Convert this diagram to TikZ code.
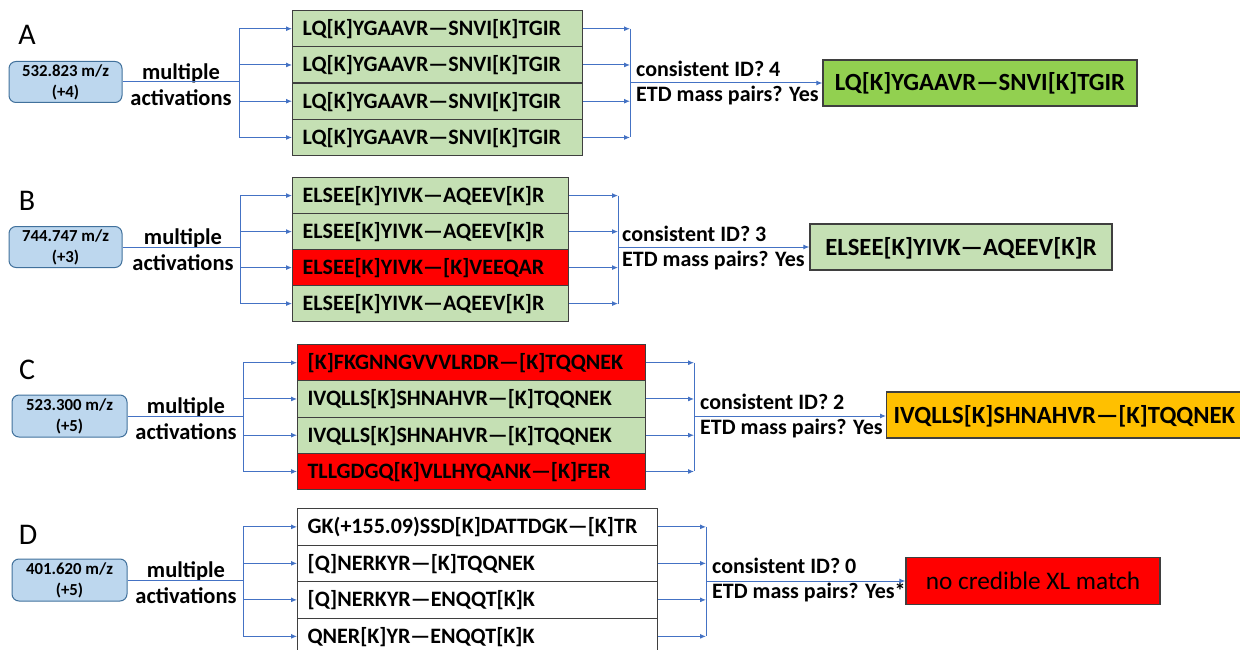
\documentclass[tikz,border=0pt]{standalone}
\usepackage{fontspec}
\setmainfont{Carlito}
\usetikzlibrary{arrows.meta}

\definecolor{linkblue}{HTML}{4472C4}
\definecolor{prefill}{HTML}{BDD7EE}
\definecolor{predraw}{HTML}{41719C}
\definecolor{rowgreen}{HTML}{C5E0B4}
\definecolor{rowred}{HTML}{FF0000}
\definecolor{resgreen}{HTML}{92D050}
\definecolor{resorange}{HTML}{FFC000}
\definecolor{edgegray}{HTML}{3F3F3F}

\tikzset{
  conn/.style={draw=linkblue, line width=1pt},
  arr/.style={conn, -{Latex[length=6pt,width=5pt]}},
  panellabel/.style={font=\fontsize{30}{30}\selectfont, inner sep=0pt},
  precursor/.style={draw=predraw, fill=prefill, rounded corners=7pt, line width=1pt,
    minimum width=113pt, minimum height=41pt, align=center, inner sep=0pt,
    font=\fontsize{16.8}{21}\selectfont\bfseries},
  activ/.style={align=center, inner sep=0pt, font=\fontsize{22.5}{26}\selectfont\bfseries},
  seqrow/.style={draw=edgegray, line width=1.2pt, anchor=north west, inner xsep=10pt,
    inner ysep=0pt, align=left, text height=16pt, text depth=2pt,
    font=\fontsize{22}{25}\selectfont\bfseries},
  verdict/.style={anchor=west, align=left, inner sep=0pt,
    font=\fontsize{22}{25.5}\selectfont\bfseries},
  result/.style={draw=edgegray, line width=1.2pt, inner xsep=8pt, inner ysep=0pt,
    text height=18pt, text depth=2pt, font=\fontsize{24.7}{28}\selectfont\bfseries},
}

\begin{document}
\begin{tikzpicture}[x=1pt,y=-1pt]
\useasboundingbox (0,0) rectangle (1240,650);
\clip (0,0) rectangle (1240,650);

% ---------------- Panel A ----------------
\node[panellabel] (labA) at (27,35) {A};
\node[precursor] (preA) at (65.5,82) {532.823 m/z\\(+4)};
\node[activ] (actA) at (181,85) {multiple\\activations};
\coordinate (forkA) at (239,82);
\node[seqrow, fill=rowgreen, minimum height=36.25pt, text width=270pt] (rA1) at (292,10) {LQ[K]YGAAVR—SNVI[K]TGIR};
\node[seqrow, fill=rowgreen, minimum height=36.25pt, text width=270pt] (rA2) at (292,46.25) {LQ[K]YGAAVR—SNVI[K]TGIR};
\node[seqrow, fill=rowgreen, minimum height=36.25pt, text width=270pt] (rA3) at (292,82.5) {LQ[K]YGAAVR—SNVI[K]TGIR};
\node[seqrow, fill=rowgreen, minimum height=36.25pt, text width=270pt] (rA4) at (292,118.75) {LQ[K]YGAAVR—SNVI[K]TGIR};
\coordinate (joinA) at (630,83);
\node[result, fill=resgreen, minimum width=314pt, minimum height=46pt] (resA) at (980,83) {LQ[K]YGAAVR—SNVI[K]TGIR};
\node[verdict] (vA) at (636,83) {consistent ID? 4\\ETD mass pairs? Yes};

\draw[conn] (preA.east) -- (forkA);
\draw[conn] (forkA |- rA1.west) -- (forkA |- rA4.west);
\draw[conn] (joinA |- rA1.east) -- (joinA |- rA4.east);
\foreach \i in {1,...,4} {
  \draw[arr] (forkA |- rA\i.west) -- (rA\i.west);
  \draw[arr] (rA\i.east) -- (joinA |- rA\i.east);
}
\draw[arr] (joinA) -- (resA.west);

% ---------------- Panel B ----------------
\node[panellabel] (labB) at (27,201) {B};
\node[precursor] (preB) at (65.5,247) {744.747 m/z\\(+3)};
\node[activ] (actB) at (183,250) {multiple\\activations};
\coordinate (forkB) at (240,247);
\node[seqrow, fill=rowgreen, minimum height=36pt, text width=256pt] (rB1) at (292,177) {ELSEE[K]YIVK—AQEEV[K]R};
\node[seqrow, fill=rowgreen, minimum height=36pt, text width=256pt] (rB2) at (292,213) {ELSEE[K]YIVK—AQEEV[K]R};
\node[seqrow, fill=rowred, minimum height=36pt, text width=256pt] (rB3) at (292,249) {ELSEE[K]YIVK—[K]VEEQAR};
\node[seqrow, fill=rowgreen, minimum height=36pt, text width=256pt] (rB4) at (292,285) {ELSEE[K]YIVK—AQEEV[K]R};
\coordinate (joinB) at (618,247);
\node[result, fill=rowgreen, minimum width=302pt, minimum height=46pt] (resB) at (961,247) {ELSEE[K]YIVK—AQEEV[K]R};
\node[verdict] (vB) at (622,248) {consistent ID? 3\\ETD mass pairs? Yes};

\draw[conn] (preB.east) -- (forkB);
\draw[conn] (forkB |- rB1.west) -- (forkB |- rB4.west);
\draw[conn] (joinB |- rB1.east) -- (joinB |- rB4.east);
\foreach \i in {1,...,4} {
  \draw[arr] (forkB |- rB\i.west) -- (rB\i.west);
  \draw[arr] (rB\i.east) -- (joinB |- rB\i.east);
}
\draw[arr] (joinB) -- (resB.west);

% ---------------- Panel C ----------------
\node[panellabel] (labC) at (27,370) {C};
\node[precursor, minimum width=115pt, minimum height=42pt] (preC) at (69.5,416) {523.300 m/z\\(+5)};
\node[activ] (actC) at (186,419) {multiple\\activations};
\coordinate (forkC) at (243,416);
\node[seqrow, fill=rowred, minimum height=36.25pt, text width=328pt] (rC1) at (297,344) {[K]FKGNNGVVVLRDR—[K]TQQNEK};
\node[seqrow, fill=rowgreen, minimum height=36.25pt, text width=328pt] (rC2) at (297,380.25) {IVQLLS[K]SHNAHVR—[K]TQQNEK};
\node[seqrow, fill=rowgreen, minimum height=36.25pt, text width=328pt] (rC3) at (297,416.5) {IVQLLS[K]SHNAHVR—[K]TQQNEK};
\node[seqrow, fill=rowred, minimum height=36.25pt, text width=328pt] (rC4) at (297,452.75) {TLLGDGQ[K]VLLHYQANK—[K]FER};
\coordinate (joinC) at (694,416);
\node[result, fill=resorange, anchor=west, minimum height=46pt, text width=380pt, align=left, inner xsep=7pt] (resC) at (886,415) {IVQLLS[K]SHNAHVR—[K]TQQNEK};
\node[verdict] (vC) at (700,416) {consistent ID? 2\\ETD mass pairs? Yes};

\draw[conn] (preC.east) -- (forkC);
\draw[conn] (forkC |- rC1.west) -- (forkC |- rC4.west);
\draw[conn] (joinC |- rC1.east) -- (joinC |- rC4.east);
\foreach \i in {1,...,4} {
  \draw[arr] (forkC |- rC\i.west) -- (rC\i.west);
  \draw[arr] (rC\i.east) -- (joinC |- rC\i.east);
}
\draw[arr] (joinC) -- (resC.west |- joinC);

% ---------------- Panel D ----------------
\node[panellabel] (labD) at (28,535) {D};
\node[precursor, minimum width=115pt, minimum height=42pt] (preD) at (69.5,580) {401.620 m/z\\(+5)};
\node[activ] (actD) at (186,583) {multiple\\activations};
\coordinate (forkD) at (243,580);
\node[seqrow, fill=white, minimum height=36.5pt, text width=340pt] (rD1) at (297,508) {GK(+155.09)SSD[K]DATTDGK—[K]TR};
\node[seqrow, fill=white, minimum height=36.5pt, text width=340pt] (rD2) at (297,544.5) {[Q]NERKYR—[K]TQQNEK};
\node[seqrow, fill=white, minimum height=36.5pt, text width=340pt] (rD3) at (297,581) {[Q]NERKYR—ENQQT[K]K};
\node[seqrow, fill=white, minimum height=36.5pt, text width=340pt] (rD4) at (297,617.5) {QNER[K]YR—ENQQT[K]K};
\coordinate (joinD) at (706,581);
\node[result, fill=rowred, minimum width=254pt, minimum height=47pt, font=\fontsize{25.3}{28}\selectfont] (resD) at (1033,581) {no credible XL match};
\node[verdict] (vD) at (712,580) {consistent ID? 0\\ETD mass pairs? Yes*};

\draw[conn] (preD.east) -- (forkD);
\draw[conn] (forkD |- rD1.west) -- (forkD |- rD4.west);
\draw[conn] (joinD |- rD1.east) -- (joinD |- rD4.east);
\foreach \i in {1,...,4} {
  \draw[arr] (forkD |- rD\i.west) -- (rD\i.west);
  \draw[arr] (rD\i.east) -- (joinD |- rD\i.east);
}
\draw[arr] (joinD) -- (resD.west);
\end{tikzpicture}
\end{document}
